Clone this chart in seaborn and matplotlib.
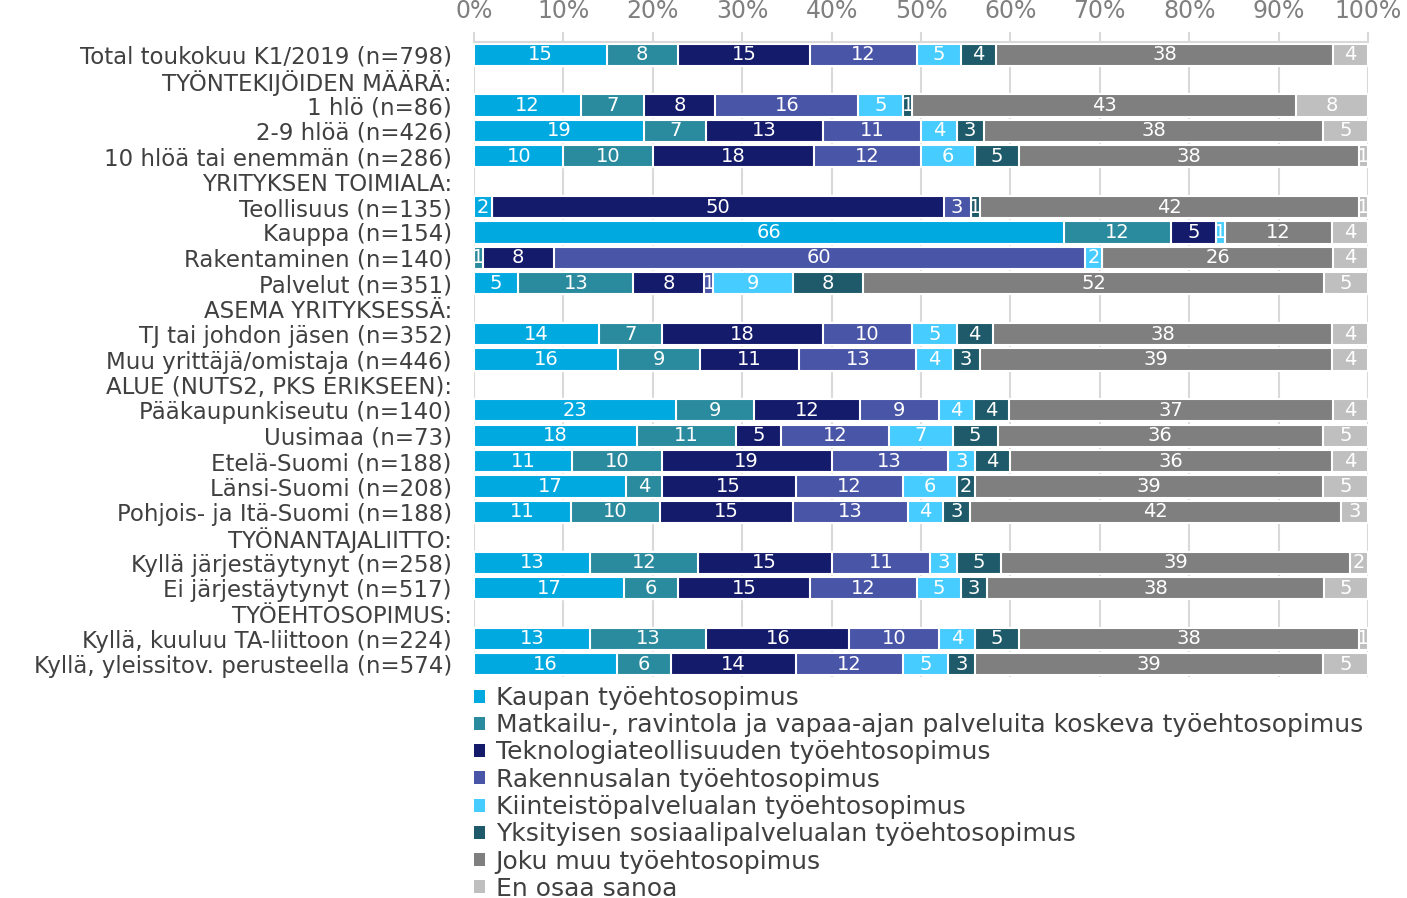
import numpy as np
import pandas as pd
import matplotlib
matplotlib.use("Agg")
import matplotlib.pyplot as plt
from matplotlib.patches import Patch
import seaborn as sns

# Rivit (otsikkorivit ilman palkkeja)
order = [
    "Total toukokuu K1/2019 (n=798)",
    "TYÖNTEKIJÖIDEN MÄÄRÄ:",
    "1 hlö (n=86)",
    "2-9 hlöä (n=426)",
    "10 hlöä tai enemmän (n=286)",
    "YRITYKSEN TOIMIALA:",
    "Teollisuus (n=135)",
    "Kauppa (n=154)",
    "Rakentaminen (n=140)",
    "Palvelut (n=351)",
    "ASEMA YRITYKSESSÄ:",
    "TJ tai johdon jäsen (n=352)",
    "Muu yrittäjä/omistaja (n=446)",
    "ALUE (NUTS2, PKS ERIKSEEN):",
    "Pääkaupunkiseutu (n=140)",
    "Uusimaa (n=73)",
    "Etelä-Suomi (n=188)",
    "Länsi-Suomi (n=208)",
    "Pohjois- ja Itä-Suomi (n=188)",
    "TYÖNANTAJALIITTO:",
    "Kyllä järjestäytynyt (n=258)",
    "Ei järjestäytynyt (n=517)",
    "TYÖEHTOSOPIMUS:",
    "Kyllä, kuuluu TA-liittoon (n=224)",
    "Kyllä, yleissitov. perusteella (n=574)",
]
headers = ["TYÖNTEKIJÖIDEN MÄÄRÄ:", "YRITYKSEN TOIMIALA:", "ASEMA YRITYKSESSÄ:",
           "ALUE (NUTS2, PKS ERIKSEEN):", "TYÖNANTAJALIITTO:", "TYÖEHTOSOPIMUS:"]
rows = [r for r in order if r not in headers]

series = [
    "Kaupan työehtosopimus",
    "Matkailu-, ravintola ja vapaa-ajan palveluita koskeva työehtosopimus",
    "Teknologiateollisuuden työehtosopimus",
    "Rakennusalan työehtosopimus",
    "Kiinteistöpalvelualan työehtosopimus",
    "Yksityisen sosiaalipalvelualan työehtosopimus",
    "Joku muu työehtosopimus",
    "En osaa sanoa",
]

kaupan   = [15, 12, 19, 10,  2, 66,  0,  5, 14, 16, 23, 18, 11, 17, 11, 13, 17, 13, 16]
matkailu = [ 8,  7,  7, 10,  0, 12,  1, 13,  7,  9,  9, 11, 10,  4, 10, 12,  6, 13,  6]
tekno    = [15,  8, 13, 18, 50,  5,  8,  8, 18, 11, 12,  5, 19, 15, 15, 15, 15, 16, 14]
rakennus = [12, 16, 11, 12,  3,  0, 60,  1, 10, 13,  9, 12, 13, 12, 13, 11, 12, 10, 12]
kiint    = [ 5,  5,  4,  6,  0,  1,  2,  9,  5,  4,  4,  7,  3,  6,  4,  3,  5,  4,  5]
yksit    = [ 4,  1,  3,  5,  1,  0,  0,  8,  4,  3,  4,  5,  4,  2,  3,  5,  3,  5,  3]
joku     = [38, 43, 38, 38, 42, 12, 26, 52, 38, 39, 37, 36, 36, 39, 42, 39, 38, 38, 39]
eos      = [ 4,  8,  5,  1,  1,  4,  4,  5,  4,  4,  4,  5,  4,  5,  3,  2,  5,  1,  5]

colors = ["#00A9E0", "#2A8A9E", "#141B6B", "#4955A6",
          "#47CCFF", "#1F5A6A", "#7F7F7F", "#BFBFBF"]

vals = np.array([kaupan, matkailu, tekno, rakennus, kiint, yksit, joku, eos], dtype=float)
# skaalataan jokainen rivi 100 %:iin (pyöristyserot)
shares = vals / vals.sum(axis=0) * 100
cum = np.cumsum(shares, axis=0)

df = pd.DataFrame({"row": rows})
for k in range(len(series)):
    df[f"cum{k}"] = cum[k]

sns.set_theme(style="white")
plt.rcParams["font.family"] = ["DejaVu Sans"]

fig = plt.figure(figsize=(14.07, 8.98), dpi=100)
ax = fig.add_axes([474 / 1407, 1 - 677 / 898, (1368 - 474) / 1407, (677 - 42) / 898])

# pinotut palkit: kumulatiiviset summat päällekkäin, pisin ensin
for k in reversed(range(len(series))):
    sns.barplot(data=df, x=f"cum{k}", y="row", order=order, orient="h",
                color=colors[k], saturation=1, width=0.87, errorbar=None,
                edgecolor="white", linewidth=1.5, ax=ax, zorder=2)

# arvot palkkien keskelle
ypos = {r: i for i, r in enumerate(order)}
for k in range(len(series)):
    for j, r in enumerate(rows):
        v = vals[k, j]
        if v <= 0:
            continue
        left = cum[k - 1, j] if k > 0 else 0
        ax.text((left + cum[k, j]) / 2, ypos[r], f"{int(v)}", ha="center", va="center",
                color="white", fontsize=14, zorder=5)

ax.set_xlim(0, 100)
ax.set_ylim(len(order) - 0.5, -0.5)
ax.xaxis.tick_top()
ax.set_xticks(range(0, 101, 10))
ax.set_xticklabels([f"{t}%" for t in range(0, 101, 10)])
ax.set_xlabel("")
ax.set_ylabel("")
ax.set_axisbelow(True)
ax.grid(axis="x", color="#D9D9D9", linewidth=1.5)
ax.grid(axis="y", visible=False)
for s in ["bottom", "left", "right"]:
    ax.spines[s].set_visible(False)
ax.spines["top"].set_color("#D9D9D9")
ax.spines["top"].set_linewidth(1.5)
ax.tick_params(axis="x", top=True, length=7, width=1.5, color="#D9D9D9",
               labelcolor="#808080", labelsize=17, pad=7)
ax.tick_params(axis="y", length=0, labelsize=16.5, labelcolor="#404040", pad=16)

handles = [Patch(facecolor=c, edgecolor="none") for c in colors]
fig.legend(handles, series, loc="upper left",
           bbox_to_anchor=(474 / 1407, 1 - 686 / 898), frameon=False,
           fontsize=18, labelcolor="#404040", handlelength=0.42, handleheight=0.42,
           handletextpad=0.45, labelspacing=0.13, borderpad=0, borderaxespad=0)

fig.savefig("out.png", dpi=100)
